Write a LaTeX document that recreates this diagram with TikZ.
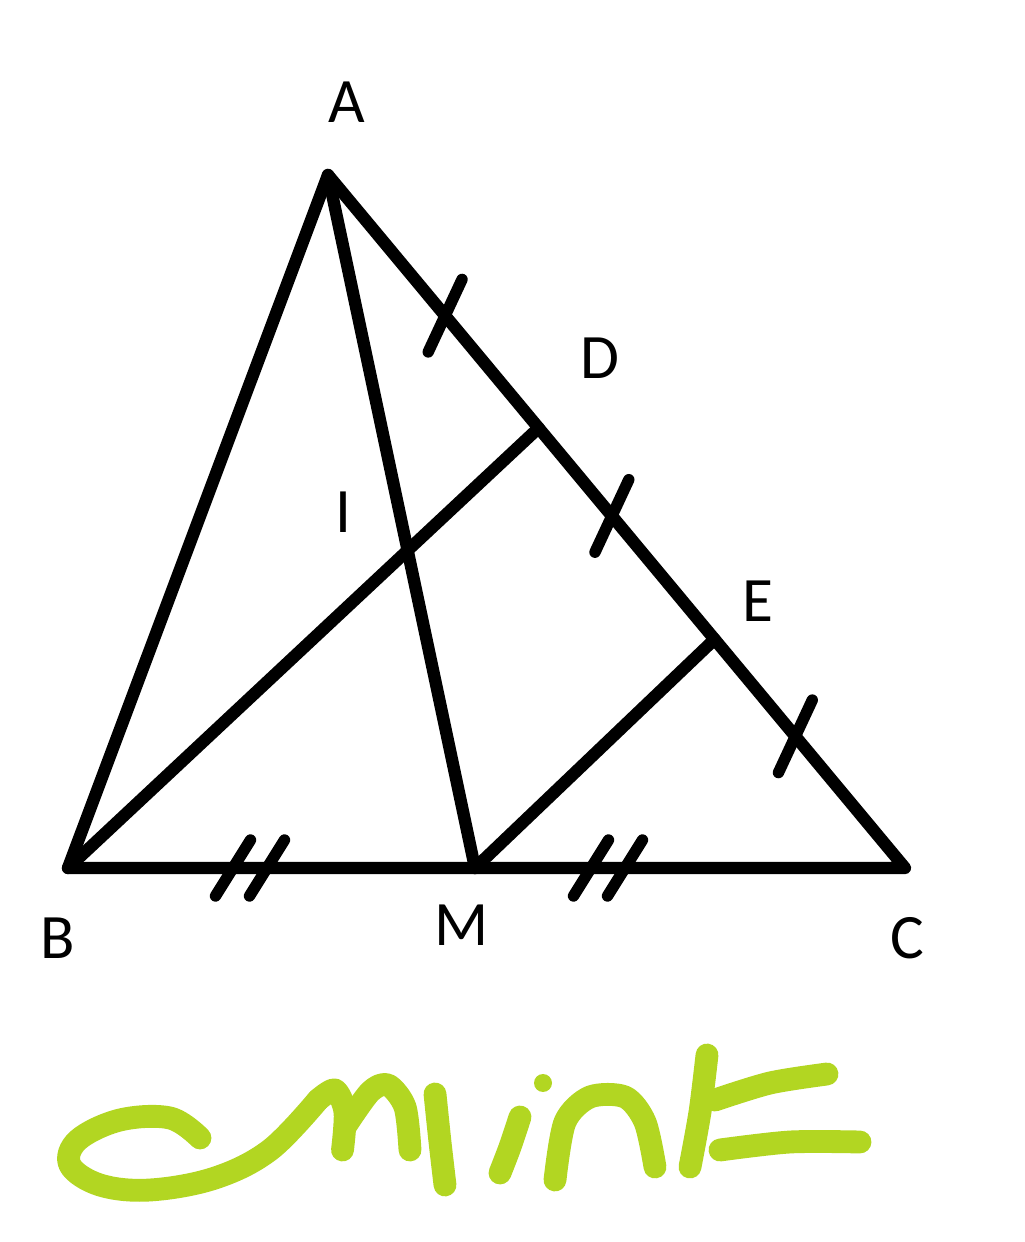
\documentclass[tikz,border=0pt]{standalone}
\usepackage{fontspec}
\setmainfont{Carlito}
\usetikzlibrary{calc,intersections}
\definecolor{mintgreen}{RGB}{178,214,34}

\begin{document}
\begin{tikzpicture}[line width=7pt, line cap=round, line join=round]
    \tikzstyle{side}=[draw=black]
    \tikzstyle{tick}=[draw=black, line width=6.5pt]
    \tikzstyle{vertex label}=[font=\fontsize{36}{40}\selectfont, inner sep=0pt]
    \tikzstyle{scribble}=[draw=mintgreen, line width=13pt]

    \useasboundingbox (0,0) rectangle (20.48,24.84);

    % Draw the corners of the triangle
    \coordinate (A) at (6.56,21.34);
    \coordinate (B) at (1.36,7.48);
    \coordinate (C) at (18.10,7.48);
    \coordinate (M) at (9.50,7.48);
    \coordinate (D) at ($(A)!0.365!(C)$);
    \coordinate (E) at ($(A)!0.67!(C)$);

    % Sides, median and the two parallels
    \draw[side] (A) -- (B) -- (C) -- cycle;
    \draw[side, name path=median] (A) -- (M);
    \draw[side, name path=bd] (B) -- (D);
    \draw[side] (M) -- (E);
    \path[name intersections={of=median and bd, by=I}];

    % Equal parts on AC
    \foreach \t in {0.203,0.492,0.81}
        \draw[tick] ($(A)!\t!(C)$) ++(245:0.8) -- ++(65:1.6);

    % Equal halves of BC
    \foreach \x in {5.0,12.16}
        \foreach \dx in {-0.34,0.34}
            \draw[tick] ($(B)+(\x-1.36+\dx,0)$) ++(238:0.66) -- ++(58:1.32);

    % Labels
    \node[vertex label] (lA) at (6.94,22.80) {A};
    \node[vertex label] (lB) at (1.16,6.08) {B};
    \node[vertex label] (lC) at (18.14,6.08) {C};
    \node[vertex label] (lM) at (9.24,6.34) {M};
    \node[vertex label] (lD) at (12.00,17.68) {D};
    \node[vertex label] (lE) at (15.16,12.82) {E};
    \node[vertex label] (lI) at ($(I)+(-1.28,0.76)$) {I};

    % Green signature
    \draw[scribble] plot[smooth, tension=0.6] coordinates {(4.0,2.08) (3.4,2.48) (2.4,2.44) (1.56,2.04) (1.4,1.54) (2.0,1.14) (3.0,1.04) (4.3,1.28) (5.4,1.84) (6.36,2.84)};
    \draw[scribble] plot[smooth, tension=0.5] coordinates {(6.36,2.84) (6.7,3.04) (6.9,2.6) (6.85,1.84)};
    \draw[scribble] plot[smooth, tension=0.5] coordinates {(6.9,2.3) (7.4,3.0) (7.76,3.14) (8.1,2.7) (8.2,1.84)};
    \draw[scribble] plot[smooth, tension=0.5] coordinates {(8.7,2.96) (8.8,2.0) (8.9,1.14)};
    \draw[scribble] plot[smooth, tension=0.5] coordinates {(10.4,2.5) (10.2,1.9) (10.0,1.38)};
    \fill[mintgreen] (10.86,3.18) circle (0.18);
    \draw[scribble] plot[smooth, tension=0.5] coordinates {(11.1,1.24) (11.3,2.4) (11.8,2.9) (12.5,2.9) (12.9,2.4) (13.1,1.5)};
    \draw[scribble] plot[smooth, tension=0.5] coordinates {(14.14,3.74) (14.0,2.6) (13.8,1.5)};
    \draw[scribble] plot[smooth, tension=0.5] coordinates {(14.3,2.84) (15.4,3.18) (16.54,3.36)};
    \draw[scribble] plot[smooth, tension=0.5] coordinates {(14.4,1.84) (15.8,2.0) (17.2,2.0)};
\end{tikzpicture}
\end{document}
